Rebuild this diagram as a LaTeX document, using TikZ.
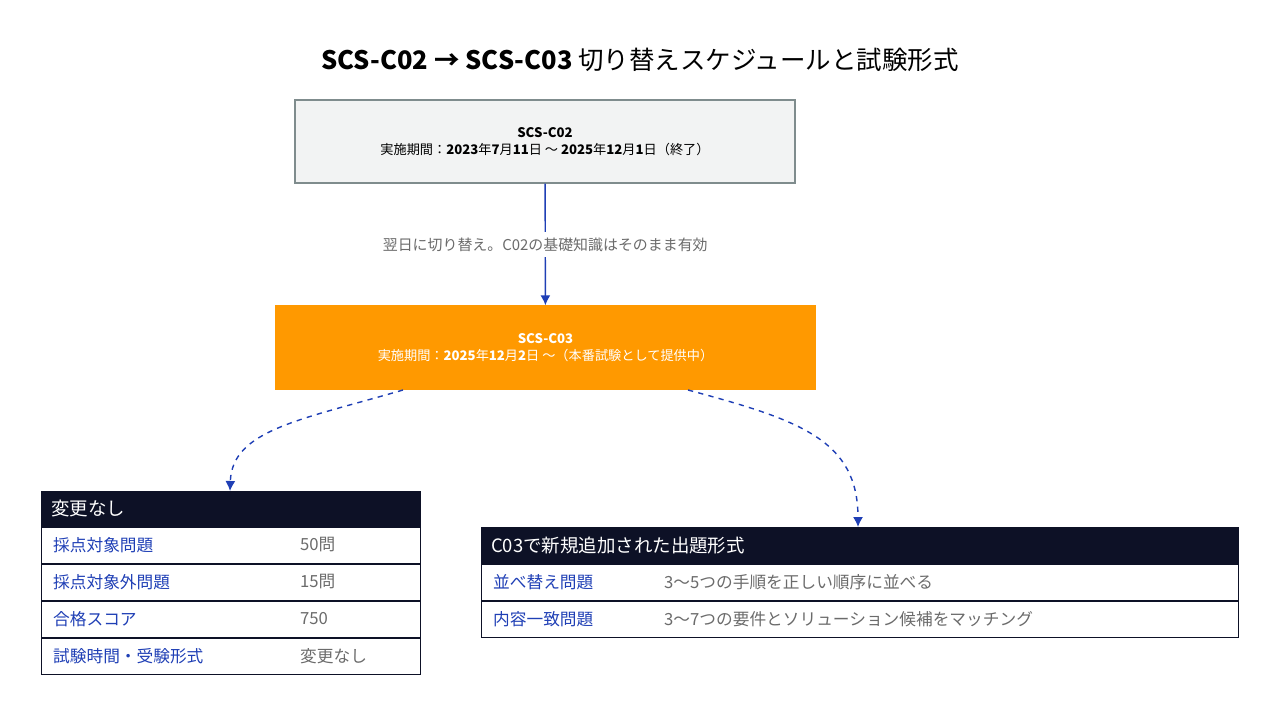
\documentclass[tikz,border=0pt]{standalone}
\usepackage{fontspec}
\setmainfont{Noto Sans CJK JP}
\usetikzlibrary{positioning}
\usetikzlibrary{arrows.meta}
\definecolor{boxgray}{HTML}{F2F3F3}
\definecolor{edgegray}{HTML}{7F8C8D}
\definecolor{awsorange}{HTML}{FF9900}
\definecolor{navy}{HTML}{0D1126}
\definecolor{linkblue}{HTML}{1F3FB5}
\definecolor{valgray}{HTML}{6B6B6B}
\tikzset{
  phase/.style={draw=edgegray,thick,minimum height=83*0.02cm,align=center,font=\fontsize{7.5}{10}\selectfont},
  head/.style={draw=navy,fill=navy,thick,anchor=north west,minimum height=36*0.02cm,text=white,
    font=\fontsize{10.5}{12}\selectfont,inner sep=0pt},
  row/.style={draw=navy,thick,anchor=north west,minimum height=36*0.02cm,inner sep=0pt},
  key/.style={anchor=west,text=linkblue,font=\fontsize{9.5}{11}\selectfont},
  val/.style={anchor=west,text=valgray,font=\fontsize{9.5}{11}\selectfont},
  flow/.style={draw=linkblue,thick,-{Latex[length=2mm,width=2mm]}},
  branch/.style={draw=linkblue,thick,dashed,-{Latex[length=2mm,width=2mm]}}
}
\begin{document}
\begin{tikzpicture}[x=0.02cm,y=-0.02cm]
\useasboundingbox (0,0) rectangle (1280,716);
\node (title) at (640,60) {\fontsize{14.5}{16}\selectfont\textbf{SCS-C02 → SCS-C03} 切り替えスケジュールと試験形式};

\node[phase,fill=boxgray,minimum width=500*0.02cm] (c02) at (545,141.5)
  {\textbf{SCS-C02}\\実施期間：\textbf{2023}年\textbf{7}月\textbf{11}日 〜 \textbf{2025}年\textbf{12}月\textbf{1}日（終了）};
\node[phase,draw=awsorange,fill=awsorange,text=white,minimum width=539*0.02cm] (c03) at (545.5,347.5)
  {\textbf{SCS-C03}\\実施期間：\textbf{2025}年\textbf{12}月\textbf{2}日 〜（本番試験として提供中）};

\draw[flow] (c02) -- node[fill=white,text=valgray,font=\fontsize{8.5}{10}\selectfont]{翌日に切り替え。\textit{C02}の基礎知識はそのまま有効} (c03);

% unchanged items
\node[head,minimum width=379*0.02cm] (same) at (41,491) {};
\node[anchor=west,text=white,font=\fontsize{10.5}{12}\selectfont] at (45,509) {変更なし};
\foreach \k/\v [count=\i] in {採点対象問題/50問,採点対象外問題/15問,合格スコア/750 / 1000,試験時間・受験形式/変更なし}{
  \node[row,minimum width=379*0.02cm] (same\i) at (41,490+\i*37) {};
  \node[key] at (47,508+\i*37) {\k};
  \node[val] at (294,508+\i*37) {\v};
}

% new formats
\node[head,minimum width=757*0.02cm] (new) at (481,527) {};
\node[anchor=west,text=white,font=\fontsize{10.5}{12}\selectfont] at (485,545.5) {C03で新規追加された出題形式};
\foreach \k/\v [count=\i] in {並べ替え問題/3〜5つの手順を正しい順序に並べる,内容一致問題/3〜7つの要件とソリューション候補をマッチング}{
  \node[row,minimum width=757*0.02cm] (new\i) at (481,527+\i*37) {};
  \node[key] at (487,545+\i*37) {\k};
  \node[val] at (658,545+\i*37) {\v};
}

\draw[branch] (403,390) .. controls (300,420) and (232,430) .. (same.north west -| 230,0);
\draw[branch] (688,390) .. controls (800,420) and (858,440) .. (new.north west -| 858,0);
\end{tikzpicture}
\end{document}
